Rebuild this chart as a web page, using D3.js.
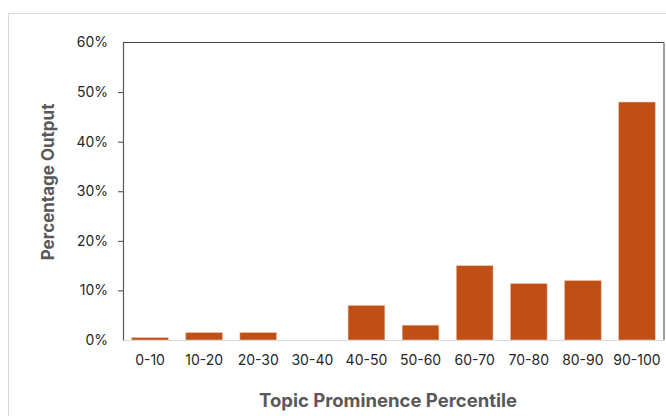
<!DOCTYPE html>
<html><head><meta charset="utf-8">
<script src="https://cdn.jsdelivr.net/npm/d3@7"></script>
<style>html,body{margin:0;padding:0;background:#fff;}svg{display:block;}</style>
</head><body>
<svg id="c" width="666" height="416"></svg>
<script>
const categories = ["0-10","10-20","20-30","30-40","40-50","50-60","60-70","70-80","80-90","90-100"];
const values = [0.5,1.5,1.5,0,7,3,15,11.4,12,48];
const yTicks = [0,10,20,30,40,50,60];
const xTitle = "Topic Prominence Percentile";
const yTitle = "Percentage Output";

(function(){
const svg = d3.select("#c");
const font = "Inter, 'Open Sans', sans-serif";
const mL = 123, mR = 664, mT = 42.5, mB = 340;

// outer chart border
svg.append("rect").attr("x",8.5).attr("y",13.5).attr("width",700).attr("height",420)
  .attr("fill","none").attr("stroke","#d9d9d9").attr("stroke-width",1);

const x = d3.scaleBand().domain(categories).range([mL,mR]).paddingInner(0.32).paddingOuter(0.16);
const y = d3.scaleLinear().domain([0,60]).range([mB,mT]);

// frame top and right
svg.append("line").attr("x1",mL).attr("x2",mR).attr("y1",y(60)).attr("y2",y(60)).attr("stroke","#404040").attr("stroke-width",1);
svg.append("line").attr("x1",mR).attr("x2",mR).attr("y1",y(60)).attr("y2",mB).attr("stroke","#7f7f7f").attr("stroke-width",1.5);

// bars
svg.append("g").selectAll("rect").data(values).join("rect")
  .attr("x",(d,i)=>x(categories[i]))
  .attr("width",x.bandwidth())
  .attr("y",d=>y(d))
  .attr("height",d=>mB-y(d))
  .attr("fill","#C04F15")
  .attr("stroke",d=>d>0?"#f2c9b4":"none").attr("stroke-width",0.6);

// bottom axis
const xAxis = d3.axisBottom(x).tickSize(0).tickPadding(15);
const gx = svg.append("g").attr("transform",`translate(0,${mB})`).call(xAxis);
gx.select(".domain").attr("stroke","#d9d9d9").attr("stroke-width",1.2);
gx.selectAll("text").attr("font-family",font).attr("font-size",14).attr("fill","#262626");

// left axis
const yAxis = d3.axisLeft(y).tickValues(yTicks).tickFormat(d=>d+"%").tickSize(5).tickPadding(10).tickSizeOuter(0);
const gy = svg.append("g").attr("transform",`translate(${mL},0)`).call(yAxis);
gy.select(".domain").attr("stroke","#595959").attr("stroke-width",1.2);
gy.selectAll(".tick line").attr("stroke","#404040").attr("stroke-width",1)
  .attr("display",d=>(d===0||d===60)?"none":null);
gy.selectAll("text").attr("font-family",font).attr("font-size",14).attr("fill","#262626");

// axis titles
svg.append("text").attr("x",388).attr("y",407).attr("text-anchor","middle")
  .attr("font-family",font).attr("font-size",18.5).attr("font-weight","bold").attr("fill","#595959").text(xTitle);
svg.append("text").attr("transform","translate(54,182) rotate(-90)").attr("text-anchor","middle")
  .attr("font-family",font).attr("font-size",17).attr("font-weight","bold").attr("fill","#595959").text(yTitle);
})();
</script>
</body></html>
